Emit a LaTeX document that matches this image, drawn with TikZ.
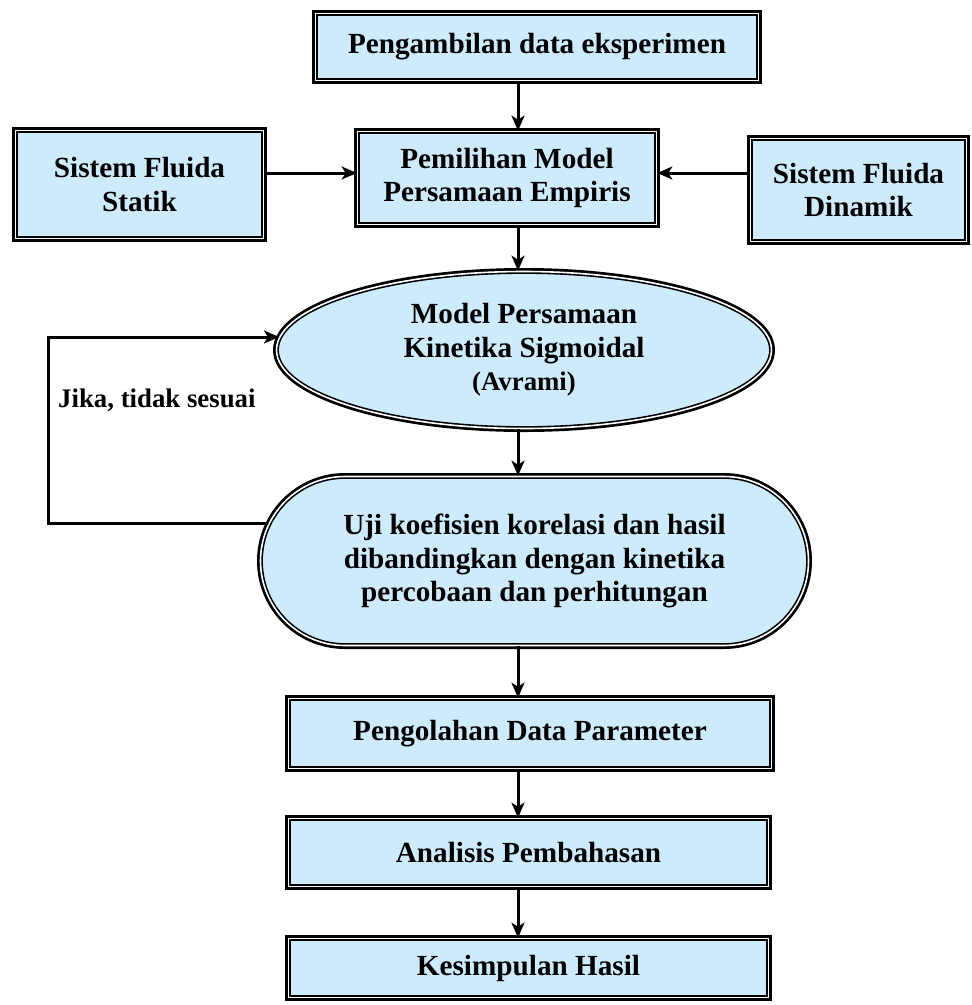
\documentclass[tikz,border=0pt]{standalone}
\usepackage{fontspec}
\setmainfont{Liberation Serif}
\usetikzlibrary{arrows.meta,shapes.geometric,shapes.misc}
\definecolor{boxfill}{RGB}{206,235,252}
\tikzset{
  dbl/.style={preaction={draw=black, line width=7pt}, fill=boxfill, draw=black,
    line width=1.6pt, double=white, double distance=1.6pt, inner sep=0pt,
    align=center, font=\bfseries\fontsize{29.2}{33.5}\selectfont},
  boxr/.style={dbl, rectangle},
  ell/.style={dbl, ellipse},
  stad/.style={dbl, rounded rectangle},
  arr/.style={draw=black, line width=3pt, -{Stealth[length=15pt,width=13pt,inset=4pt]}},
  lbl/.style={font=\bfseries\fontsize{26.8}{30}\selectfont, inner sep=0pt}
}
\begin{document}
\begin{tikzpicture}[x=1pt,y=-1pt]
\useasboundingbox (0,0) rectangle (972,1005);
\coordinate (colx) at (518,0);
\coordinate (ay) at (0,173);
\coordinate (fbx) at (48,337);

\node[boxr, minimum width=443, minimum height=67] (b1) at (537,47) {Pengambilan data eksperimen};
\node[boxr, minimum width=299, minimum height=93] (b2) at (507,178) {Pemilihan Model\\Persamaan Empiris};
\node[boxr, minimum width=248, minimum height=108] (sf) at (139.5,184.5) {Sistem Fluida\\Statik};
\node[boxr, minimum width=216, minimum height=103] (df) at (858.5,190) {Sistem Fluida\\Dinamik};
\node[ell, minimum width=495, minimum height=157] (el) at (524,350) {Model Persamaan\\Kinetika Sigmoidal\\{\fontsize{26.8}{30}\selectfont (Avrami)}};
\node[stad, minimum width=548, minimum height=169] (st) at (534.5,561) {Uji koefisien korelasi dan hasil\\dibandingkan dengan kinetika\\percobaan dan perhitungan};
\node[boxr, minimum width=483, minimum height=70] (pg) at (530,733.5) {Pengolahan Data Parameter};
\node[boxr, minimum width=480, minimum height=68] (an) at (528.5,852.5) {Analisis Pembahasan};
\node[boxr, minimum width=480, minimum height=59] (ks) at (528.5,968) {Kesimpulan Hasil};

\node[lbl, anchor=base west] (jk) at (58,407) {Jika, tidak sesuai};

\draw[arr] (b1.south -| colx) -- (b2.north -| colx);
\draw[arr] (ay -| sf.east) -- (ay -| b2.west);
\draw[arr] (ay -| df.west) -- (ay -| b2.east);
\draw[arr] (b2.south -| colx) -- (el.north -| colx);
\draw[arr] (el.south -| colx) -- (st.north -| colx);
\draw[arr] (st.south -| colx) -- (pg.north -| colx);
\draw[arr] (pg.south -| colx) -- (an.north -| colx);
\draw[arr] (an.south -| colx) -- (ks.north -| colx);
\draw[arr] (st.172) -| (fbx) -- (fbx -| el.177);
\end{tikzpicture}
\end{document}
